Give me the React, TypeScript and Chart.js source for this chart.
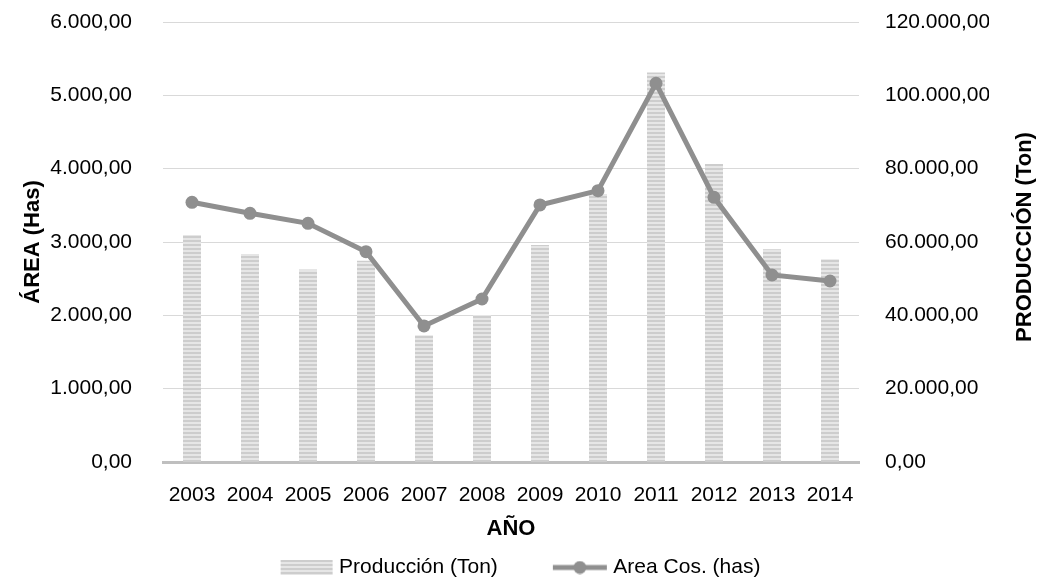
import React, { useEffect, useRef } from 'react';
import { Chart, registerables } from 'chart.js';

Chart.register(...registerables);

const years = ['2003', '2004', '2005', '2006', '2007', '2008', '2009', '2010', '2011', '2012', '2013', '2014'];
const produccion = [61900, 56700, 52500, 54900, 34600, 40100, 59200, 73100, 106200, 81300, 58000, 55300];
const areaCos = [3541, 3391, 3255, 2868, 1855, 2223, 3505, 3700, 5164, 3609, 2550, 2468];

const labelProd = 'Producción (Ton)';
const labelArea = 'Area Cos. (has)';
const titleLeft = 'ÁREA (Has)';
const titleRight = 'PRODUCCIÓN (Ton)';
const titleX = 'AÑO';

const FONT = "'Liberation Sans', Arial, sans-serif";
const LINE_COLOR = '#8f8f8f';

function fmt(v: number): string {
  const [i, d] = Math.abs(v).toFixed(2).split('.');
  return i.replace(/\B(?=(\d{3})+(?!\d))/g, '.') + ',' + d;
}

function stripeCanvas(): HTMLCanvasElement {
  const c = document.createElement('canvas');
  c.width = 4;
  c.height = 4;
  const g = c.getContext('2d')!;
  g.fillStyle = '#cdcdcd';
  g.fillRect(0, 0, 4, 2);
  g.fillStyle = '#e6e6e6';
  g.fillRect(0, 2, 4, 2);
  return c;
}

function legendBarImg(): HTMLCanvasElement {
  const c = document.createElement('canvas');
  c.width = 110;
  c.height = 15;
  const g = c.getContext('2d')!;
  g.fillStyle = g.createPattern(stripeCanvas(), 'repeat')!;
  g.fillRect(57, 0, 52, 15);
  return c;
}

function legendLineImg(): HTMLCanvasElement {
  const c = document.createElement('canvas');
  c.width = 110;
  c.height = 14;
  const g = c.getContext('2d')!;
  g.strokeStyle = LINE_COLOR;
  g.lineWidth = 5;
  g.beginPath();
  g.moveTo(55, 7);
  g.lineTo(109, 7);
  g.stroke();
  g.fillStyle = LINE_COLOR;
  g.beginPath();
  g.arc(82, 7, 6.5, 0, Math.PI * 2);
  g.fill();
  return c;
}

// Draws the right axis title reading bottom-to-top, as in the reference.
const rightTitlePlugin = {
  id: 'rightTitle',
  afterDraw(chart: any) {
    const { ctx, chartArea } = chart;
    ctx.save();
    ctx.translate(1025, (chartArea.top + chartArea.bottom) / 2 - 5);
    ctx.rotate(-Math.PI / 2);
    ctx.font = `bold 22px ${FONT}`;
    ctx.fillStyle = '#000';
    ctx.textAlign = 'center';
    ctx.textBaseline = 'middle';
    ctx.fillText(titleRight, 0, 0);
    ctx.restore();
  },
};

export default function App() {
  const ref = useRef<HTMLCanvasElement | null>(null);

  useEffect(() => {
    const canvas = ref.current!;
    const ctx = canvas.getContext('2d')!;
    const pattern = ctx.createPattern(stripeCanvas(), 'repeat')!;
    const barImg = legendBarImg();
    const lineImg = legendLineImg();

    const chart = new Chart(canvas, {
      type: 'bar',
      plugins: [rightTitlePlugin],
      data: {
        labels: years,
        datasets: [
          {
            type: 'bar',
            label: labelProd,
            data: produccion,
            yAxisID: 'y1',
            backgroundColor: pattern as any,
            borderWidth: 0,
            barPercentage: 0.31,
            categoryPercentage: 1,
            order: 1,
          },
          {
            type: 'line',
            label: labelArea,
            data: areaCos,
            yAxisID: 'y',
            borderColor: LINE_COLOR,
            backgroundColor: LINE_COLOR,
            borderWidth: 5,
            pointRadius: 6.5,
            pointBorderWidth: 0,
            pointBackgroundColor: LINE_COLOR,
            tension: 0,
            order: 0,
          } as any,
        ],
      },
      options: {
        responsive: false,
        animation: false,
        events: [],
        layout: { padding: { top: 22, right: 54, left: 0, bottom: -2 } },
        plugins: {
          tooltip: { enabled: false },
          legend: {
            position: 'bottom',
            labels: {
              usePointStyle: true,
              pointStyleWidth: 100,
              padding: 5,
              color: '#000',
              font: { family: FONT, size: 21 },
              generateLabels: (ch: any) => {
                const items = (Chart.defaults.plugins.legend.labels as any).generateLabels(ch);
                items.sort((a: any, b: any) => a.datasetIndex - b.datasetIndex);
                items.forEach((it: any) => {
                  it.pointStyle = it.datasetIndex === 0 ? barImg : lineImg;
                });
                return items;
              },
            },
          },
        },
        scales: {
          x: {
            offset: true,
            grid: { display: false, drawTicks: false },
            border: { display: true, color: '#bfbfbf', width: 3 },
            ticks: {
              color: '#000',
              font: { family: FONT, size: 21 },
              padding: 21,
              maxRotation: 0,
              autoSkip: false,
            },
            title: {
              display: true,
              text: titleX,
              color: '#000',
              font: { family: FONT, size: 22, weight: 'bold' },
              padding: { top: 0, bottom: 10 },
            },
            afterFit: (s: any) => {
              s.height = 90;
            },
          },
          y: {
            position: 'left',
            min: 0,
            max: 6000,
            grid: { color: '#d9d9d9', lineWidth: 1, drawTicks: false },
            border: { display: false },
            ticks: {
              stepSize: 1000,
              color: '#000',
              font: { family: FONT, size: 21 },
              padding: 31,
              callback: (v: any) => fmt(Number(v)),
            },
            title: {
              display: true,
              text: titleLeft,
              color: '#000',
              font: { family: FONT, size: 22, weight: 'bold' },
              padding: { top: 20, bottom: 0 },
            },
            afterFit: (s: any) => {
              s.width = 163;
              s.paddingTop = 0;
              s.paddingBottom = 0;
            },
          },
          y1: {
            position: 'right',
            min: 0,
            max: 120000,
            grid: { display: false, drawTicks: false },
            border: { display: false },
            ticks: {
              stepSize: 20000,
              color: '#000',
              font: { family: FONT, size: 21 },
              padding: 26,
              callback: (v: any) => fmt(Number(v)),
            },
            afterFit: (s: any) => {
              s.width = 130;
              s.paddingTop = 0;
              s.paddingBottom = 0;
            },
          },
        },
      } as any,
    });
    return () => chart.destroy();
  }, []);

  return (
    <div style={{ position: 'fixed', left: 0, top: 0, width: 1043, height: 586, background: '#fff' }}>
      <canvas ref={ref} width={1043} height={586} style={{ display: 'block' }} />
    </div>
  );
}
